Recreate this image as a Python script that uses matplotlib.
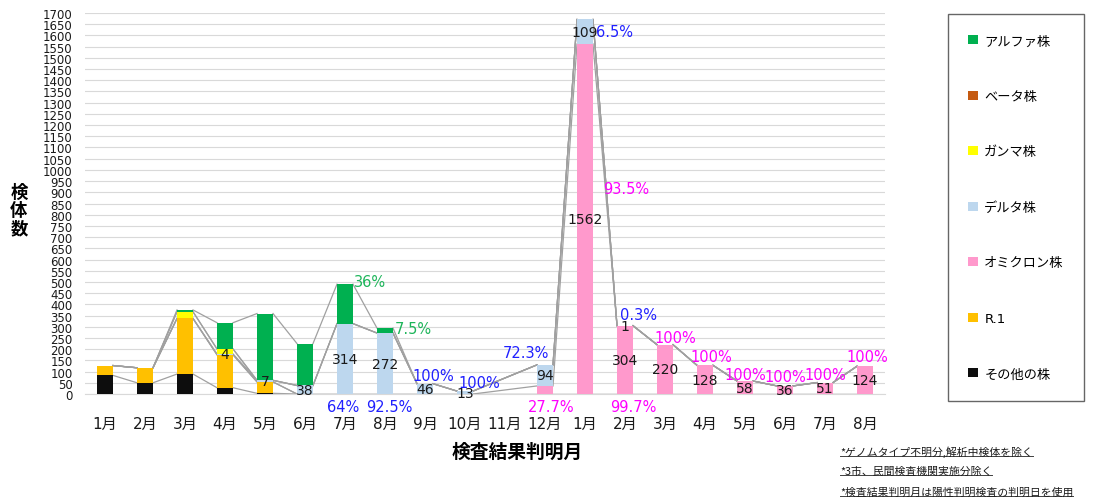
import numpy as np
import matplotlib
matplotlib.use("Agg")
import matplotlib.pyplot as plt
from matplotlib.patches import Patch
from matplotlib.lines import Line2D

plt.rcParams['font.family'] = ['DejaVu Sans', 'Noto Sans CJK JP']

nan = np.nan
months = ['1月', '2月', '3月', '4月', '5月', '6月', '7月', '8月', '9月', '10月', '11月', '12月',
          '1月', '2月', '3月', '4月', '5月', '6月', '7月', '8月']

# stack order, bottom to top
other   = [83, 50, 89, 28, 3, 0, 0, 0, 0, 0, nan, 0, 0, 0, 0, 0, 0, 0, 0, 0]
r1      = [44, 67, 248, 147, 51, 0, 0, 0, 0, 0, nan, 0, 0, 0, 0, 0, 0, 0, 0, 0]
omicron = [0, 0, 0, 0, 0, 0, 0, 0, 0, 0, nan, 36, 1562, 304, 220, 128, 58, 36, 51, 124]
delta   = [0, 0, 0, 4, 7, 38, 314, 272, 46, 13, nan, 94, 109, 1, 0, 0, 0, 0, 0, 0]
gamma   = [0, 0, 30, 22, 0, 0, 0, 0, 0, 0, nan, 0, 0, 0, 0, 0, 0, 0, 0, 0]
beta    = [0, 0, 0, 0, 0, 0, 0, 0, 0, 0, nan, 0, 0, 0, 0, 0, 0, 0, 0, 0]
alpha   = [0, 0, 8, 117, 298, 187, 176, 22, 0, 0, nan, 0, 0, 0, 0, 0, 0, 0, 0, 0]

series = [
    ('その他の株', other, '#0D0D0D'),
    ('R.1', r1, '#FFC000'),
    ('オミクロン株', omicron, '#FF99CC'),
    ('デルタ株', delta, '#BDD7EE'),
    ('ガンマ株', gamma, '#FFFF00'),
    ('ベータ株', beta, '#C55A11'),
    ('アルファ株', alpha, '#00B050'),
]
legend_order = ['アルファ株', 'ベータ株', 'ガンマ株', 'デルタ株', 'オミクロン株', 'R.1', 'その他の株']

omicron_labelled = list(range(12, 20))

GREEN, BLUE, MAGENTA = '#1DB55A', '#2020FF', '#FF00FF'
# (month index, text, colour, anchor, dx in categories, dy in points)
pct_labels = [
    (6, '36%', GREEN, 'right', 0.22, 2),
    (7, '7.5%', GREEN, 'right', 0.24, 0),
    (6, '64%', BLUE, 'below', -0.05, 0),
    (7, '92.5%', BLUE, 'below', 0.12, 0),
    (8, '100%', BLUE, 'above', 0.22, 6),
    (9, '100%', BLUE, 'above', 0.37, 6),
    (11, '72.3%', BLUE, 'above', -0.47, 9),
    (11, '27.7%', MAGENTA, 'below', 0.15, 0),
    (12, '6.5%', BLUE, 'dmid', 0.27, 0),
    (12, '93.5%', MAGENTA, 'omid', 0.45, 22),
    (13, '0.3%', BLUE, 'above', 0.33, 8),
    (13, '99.7%', MAGENTA, 'below', 0.2, 0),
    (14, '100%', MAGENTA, 'above', 0.25, 5),
    (15, '100%', MAGENTA, 'above', 0.15, 6),
    (16, '100%', MAGENTA, 'above', 0.02, 5),
    (17, '100%', MAGENTA, 'above', 0.0, 7),
    (18, '100%', MAGENTA, 'above', 0.0, 6),
    (19, '100%', MAGENTA, 'above', 0.05, 7),
]

notes = ['*ゲノムタイプ不明分,解析中検体を除く', '*3市、民間検査機関実施分除く',
         '*検査結果判明月は陽性判明検査の判明日を使用']

W, H = 1107, 502
fig = plt.figure(figsize=(W / 100, H / 100), dpi=100)
ax = fig.add_axes([85 / W, 1 - 395 / H, 800 / W, 381 / H])

x = np.arange(len(months))
width = 0.4
bottom = np.zeros(len(months))
tops = []
for name, vals, col in series:
    v = np.nan_to_num(np.array(vals, dtype=float))
    ax.bar(x, v, width, bottom=bottom, color=col, zorder=3)
    bottom = bottom + v
    tops.append(bottom.copy())

# series lines between neighbouring bars (skip the empty 11月)
valid = [i for i in x if not np.isnan(other[i])]
for t in tops:
    for a, b in zip(valid[:-1], valid[1:]):
        ax.plot([a + width / 2, b - width / 2], [t[a], t[b]], color='#A0A0A0', lw=0.9, zorder=2)

total = tops[-1]
om = np.nan_to_num(np.array(omicron, dtype=float))
de = np.nan_to_num(np.array(delta, dtype=float))
base_om = tops[1]
base_de = tops[2]

for i in x:
    if de[i] > 0:
        ax.text(i, base_de[i] + de[i] / 2, str(int(de[i])), ha='center', va='center',
                fontsize=10, color='#1A1A1A', zorder=5)
for i in omicron_labelled:
    ax.text(i, base_om[i] + om[i] / 2, str(int(om[i])), ha='center', va='center',
            fontsize=10, color='#1A1A1A', zorder=5)

for i, txt, col, anchor, dx, dy in pct_labels:
    if anchor == 'right':
        y, ha, off = total[i], 'left', dy
    elif anchor == 'below':
        y, ha, off = 0, 'center', -9
    elif anchor == 'above':
        y, ha, off = total[i], 'center', dy
    elif anchor == 'dmid':
        y, ha, off = base_de[i] + de[i] / 2, 'left', dy
    else:
        y, ha, off = base_om[i] + om[i] / 2, 'left', dy
    ax.annotate(txt, (i + dx, y), xytext=(0, off), textcoords='offset points',
                ha=ha, va='center', fontsize=10.5, color=col, zorder=6,
                annotation_clip=False)

ax.set_xlim(-0.5, len(months) - 0.5)
ax.set_ylim(0, 1700)
ax.set_yticks(np.arange(0, 1701, 50))
ax.tick_params(axis='y', labelsize=8.5, length=0, pad=9, labelcolor='#1A1A1A')
ax.set_xticks(x)
ax.set_xticklabels(months)
ax.tick_params(axis='x', labelsize=11, length=0, pad=16, labelcolor='#1A1A1A')
ax.grid(axis='y', color='#D9D9D9', lw=0.8, zorder=0)
for s in ['top', 'right', 'left']:
    ax.spines[s].set_visible(False)
ax.spines['bottom'].set_color('#D9D9D9')

fig.text(19 / W, 1 - 211 / H, '検\n体\n数', ha='center', va='center', fontsize=12.5,
         fontweight='bold', linespacing=1.0, family=['Noto Sans CJK JP'])
fig.text(517 / W, 1 - 452 / H, '検査結果判明月', ha='center', va='center', fontsize=13.5,
         fontweight='bold', family=['Noto Sans CJK JP'])

colors = {name: col for name, vals, col in series}
handles = [Patch(facecolor=colors[n], edgecolor='none') for n in legend_order]
leg = fig.legend(handles, legend_order, loc='upper left', bbox_to_anchor=(948 / W, 1 - 15 / H),
                 fontsize=9.5, frameon=True, fancybox=False, edgecolor='#404040',
                 borderpad=1.55, labelspacing=3.22, handlelength=0.7, handleheight=0.7,
                 handletextpad=0.5, borderaxespad=0)
leg.get_frame().set_linewidth(1.0)

note_y = [452, 472, 493]
note_texts = []
for t, yy in zip(notes, note_y):
    note_texts.append(fig.text(840 / W, 1 - yy / H, t, ha='left', va='center', fontsize=7.8,
                               color='#1A1A1A', family=['Noto Sans CJK JP', 'DejaVu Sans']))

fig.canvas.draw()
r = fig.canvas.get_renderer()
for t in note_texts:
    bb = t.get_window_extent(r)
    yl = bb.y0 + 1
    fig.add_artist(Line2D([bb.x0 / W, bb.x1 / W], [yl / H, yl / H], color='#404040', lw=0.7))

fig.savefig('out.png', dpi=100)
